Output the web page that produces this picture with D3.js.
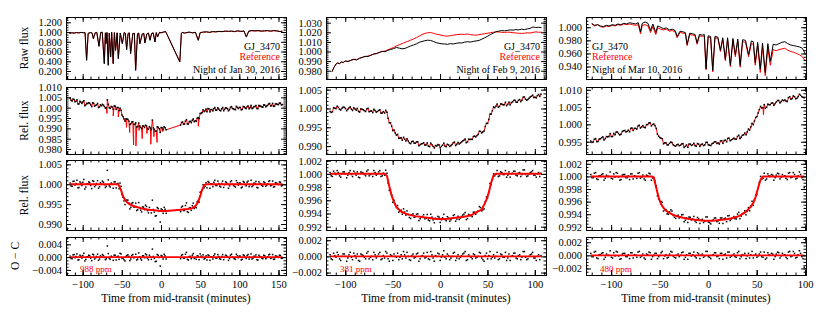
<!DOCTYPE html>
<html>
<head>
<meta charset="utf-8">
<script src="https://cdn.jsdelivr.net/npm/d3@7"></script>
<style>
body { margin: 0; background: #fff; }
svg text { font-family: "Liberation Serif", "DejaVu Serif", serif; }
</style>
</head>
<body>
<svg id="chart" width="830" height="319"></svg>
<script>
// ---- Night of Jan 30, 2016 ----
const janRawT = [-117,-114,-111,-108,-105,-102,-99,-97,-95,-93,-90,-88,-86.4,-84,-82,-79.2,-77,-75,-72.4,-71,-70.3,-69,-67.3,-66,-64.3,-63,-61,-59.5,-58,-56,-54.5,-52,-49.4,-47,-45.5,-43.9,-42,-40.5,-38.8,-36,-34,-32.4,-30,-28.5,-26.9,-24,-22,-20.5,-18,-16,-14.1,-12,-10,-7.7,-6,-4.3,-2,0,3,6,24,26,27,30,33,36,40,44,47.6,50,54,58,62,66,70,74,78,82,86,90,94,98,102,106,109,112,116,120,124,128,132,136,140,144,148,152,155];
const janRawTarget = [0.975,0.985,0.978,0.990,0.982,0.993,0.985,0.990,0.418,0.975,0.990,0.980,0.863,0.985,0.995,0.705,0.990,0.998,0.349,0.985,0.760,0.990,0.315,0.980,0.486,0.995,0.349,0.990,0.620,0.985,0.452,0.980,0.760,0.990,0.975,0.637,0.970,0.985,0.555,0.970,0.975,0.212,0.965,0.980,0.760,0.960,0.975,0.774,0.965,0.980,0.829,0.970,0.985,0.795,0.990,0.900,0.995,0.985,1.000,1.010,0.384,0.970,0.995,0.980,0.990,1.000,0.985,0.995,0.829,0.990,1.000,1.005,0.995,1.010,1.005,1.015,1.010,1.020,1.015,1.020,1.010,1.025,1.015,1.020,0.897,1.020,1.030,1.025,1.030,1.020,1.025,1.030,1.020,1.030,1.025,1.010,1.020];
const janRawRef = [0.972,0.982,0.980,0.987,0.984,0.990,0.987,0.988,0.430,0.972,0.988,0.982,0.870,0.983,0.992,0.715,0.988,0.995,0.360,0.983,0.770,0.987,0.325,0.978,0.495,0.992,0.360,0.987,0.630,0.982,0.462,0.978,0.770,0.987,0.972,0.645,0.968,0.982,0.565,0.968,0.972,0.222,0.962,0.978,0.770,0.958,0.972,0.782,0.962,0.978,0.836,0.968,0.982,0.805,0.987,0.905,0.992,0.982,0.998,1.007,0.395,0.968,0.992,0.978,0.987,0.997,0.982,0.992,0.835,0.987,0.997,1.002,0.992,1.007,1.002,1.012,1.007,1.017,1.012,1.017,1.007,1.022,1.012,1.017,0.902,1.017,1.027,1.022,1.027,1.017,1.022,1.027,1.017,1.027,1.022,1.007,1.017];
const janTime = [-116,-113.5,-111,-108.5,-106,-103.5,-101,-98.5,-96,-93.5,-91,-88.5,-86,-83.5,-81,-78.5,-76,-73.5,-71,-68.5,-66,-63.5,-61,-58.5,-56,-53.5,-51,-48.5,-46,-43.5,-41,-38.5,-36,-33.5,-31,-28.5,-26,-23.5,-21,-18.5,-16,-13.5,-11,-8.5,-6,-3.5,-1,1.5,4,6.5,25,27.5,30,32.5,35,37.5,40,42.5,45,47.5,50,52.5,55,57.5,60,62.5,65,67.5,70,72.5,75,77.5,80,82.5,85,87.5,90,92.5,95,97.5,100,102.5,105,107.5,110,112.5,115,117.5,120,122.5,125,127.5,130,132.5,135,137.5,140,142.5,145,147.5,150,152.5,155];
const janTimeB = [-114.8,-112.3,-109.8,-107.3,-104.8,-102.3,-99.8,-97.3,-94.8,-92.3,-89.8,-87.3,-84.8,-82.3,-79.8,-77.3,-74.8,-72.3,-69.8,-67.3,-64.8,-62.3,-59.8,-57.3,-54.8,-52.3,-49.8,-47.3,-44.8,-42.3,-39.8,-37.3,-34.8,-32.3,-29.8,-27.3,-24.8,-22.3,-19.8,-17.3,-14.8,-12.3,-9.8,-7.3,-4.8,-2.3,0.2,2.7,5.2,26.2,28.7,31.2,33.7,36.2,38.7,41.2,43.7,46.2,48.7,51.2,53.7,56.2,58.7,61.2,63.7,66.2,68.7,71.2,73.7,76.2,78.7,81.2,83.7,86.2,88.7,91.2,93.7,96.2,98.7,101.2,103.7,106.2,108.7,111.2,113.7,116.2,118.7,121.2,123.7,126.2,128.7,131.2,133.7,136.2,138.7,141.2,143.7,146.2,148.7,151.2,153.7];
// relative flux, ppm from unity
const janRel = [4600,3200,4000,3100,1800,3100,2050,3400,1400,2000,2150,500,2150,1100,2050,400,900,1250,-200,3800,0,600,-750,750,100,-1400,-1300,-4300,-6500,-5500,-6500,-7800,-6800,-8100,-9300,-7400,-9500,-8800,-9600,-8850,-10500,-9850,-6000,-10400,-11300,-9500,-12000,-9800,-9200,-10700,-8400,-6900,-7900,-5800,-7900,-6600,-6100,-6800,-6600,-4800,-2800,-2400,-1900,-650,-400,-2050,-900,-450,-1200,-50,-1300,-550,-1500,-50,-550,-900,500,-550,-1000,150,100,-1050,600,-150,500,-550,1100,-100,500,-400,1100,700,200,1250,800,1800,800,2100,800,1800,1500,2200,1500];
const janRelB = [3600,4150,2850,3800,1800,2720,2780,950,2100,2420,1380,2420,780,1420,80,1350,1620,580,50,1550,-350,280,800,-820,50,-250,-3500,-5400,-5450,-5650,-8100,-6900,-8000,-7300,-9150,-8750,-10000,-8900,-8470,-9920,-9170,-10570,-9750,-11400,-9250,-10200,-9600,-10700,-9700,-7200,-7950,-6550,-7850,-6700,-7250,-5450,-6350,-5100,-5250,-2750,-1050,-1520,-1980,-580,-930,-1580,70,-1180,-630,-1480,70,-780,-200,-1530,150,-380,-830,620,-430,120,-830,420,-430,820,-20,-450,550,1050,-450,750,350,1370,420,1150,2050,1050,650,1850,1550,2250,1350];
const janDipT = [-69,-61,-54.5,-44,-40,-35,-32,-28,-24,-18,-13,-9,-5,2,47.6];
const janDipV = [-2800,-4000,-4500,-9500,-12000,-18000,-18500,-11000,-15000,-12500,-17700,-14000,-16800,-11500,-9000];
const janDet = [300,-500,800,200,-900,600,-300,1200,-700,100,400,-1100,700,-200,900,-600,0,500,-800,3500,-400,300,-1000,600,100,-1100,-500,-3300,-5100,-4000,-4700,-5800,-4600,-5700,-6600,-4600,-6500,-5700,-6400,-5600,-7200,-6500,-4000,-7000,-7900,-6100,-9500,-6400,-5800,-7300,-6900,-5500,-6600,-4700,-7100,-5900,-5400,-6100,-5900,-4100,-2000,-1500,-900,400,700,-1000,100,500,-300,800,-500,200,-800,600,0,-400,900,-200,-700,400,300,-900,700,-100,500,-600,1000,-300,200,-800,600,100,-500,400,-200,700,-400,800,-600,300,-100,500,-300];
const janDetB = [-400,700,-200,1000,-800,300,500,-1200,100,600,-300,900,-600,200,-1000,400,800,-100,-500,1100,-700,0,600,-900,200,300,-2600,-4200,-4000,-4000,-6200,-4800,-5700,-4750,-6400,-5850,-6950,-5750,-5250,-6650,-5850,-7200,-6350,-8000,-5850,-6800,-6200,-7300,-6300,-5750,-6600,-5350,-6900,-5950,-6550,-4750,-5650,-4400,-4500,-1900,-100,-500,-900,500,100,-600,1000,-300,200,-700,800,-100,400,-1000,600,0,-500,900,-200,300,-700,500,-400,800,-100,-600,300,700,-900,200,-300,600,-500,100,900,-200,-700,400,0,600,-400];
const janRes = [300,-500,800,200,-900,600,-300,1200,-700,100,400,-1100,700,-200,900,-600,0,500,-800,3500,-400,300,-1000,600,100,-700,1000,-300,-1200,500,200,-600,800,-100,-900,1300,-500,400,-200,700,-800,0,2500,-400,-1300,600,-2800,300,900,-600,-500,800,-300,1500,-900,200,600,-400,-700,300,1000,-100,-600,400,700,-1000,100,500,-300,800,-500,200,-800,600,0,-400,900,-200,-700,400,300,-900,700,-100,500,-600,1000,-300,200,-800,600,100,-500,400,-200,700,-400,800,-600,300,-100,500,-300];
const janResB = [-400,700,-200,1000,-800,300,500,-1200,100,600,-300,900,-600,200,-1000,400,800,-100,-500,1100,-700,0,600,-900,300,1200,-400,-800,200,700,-1100,500,-200,900,-600,100,-900,400,1000,-300,600,-700,200,-1400,800,-100,500,-600,400,600,-300,900,-700,200,-500,1100,-200,400,-800,300,700,-400,-900,500,100,-600,1000,-300,200,-700,800,-100,400,-1000,600,0,-500,900,-200,300,-700,500,-400,800,-100,-600,300,700,-900,200,-300,600,-500,100,900,-200,-700,400,0,600,-400];
const janModelT = [-116,-55,-53.5,-51,-48.5,-46,-43.5,-41,-36,-31,-26,-21,-16,-11,-6,-1,6.5,25,30,35,40,42.5,45,47.5,50,52.5,55,57.5,155];
const janModelV = [0,0,-400,-1500,-3000,-3900,-4500,-4900,-5400,-5700,-6000,-6200,-6400,-6500,-6600,-6700,-6700,-6400,-6300,-6200,-6000,-5700,-5200,-4400,-3000,-1400,-300,0,0];

// ---- Night of Feb 9, 2016 ----
const febRawT = [-114,-112,-110,-108,-106,-104,-102,-100,-97,-94,-91,-88,-85,-82,-79,-76,-73,-70,-67,-64,-61,-58,-55,-52,-49,-46,-43,-40,-37,-34,-31,-28,-25,-22,-19,-16,-13,-10,-7,-4,-1,2,5,8,11,14,17,20,23,26,29,32,35,38,41,44,47,50,53,56,59,62,65,68,71,74,77,80,83,86,89,92,95,98,101,104,107];
const febRawTarget = [0.9790,0.9832,0.9868,0.9880,0.9872,0.9893,0.9885,0.9902,0.9895,0.9910,0.9918,0.9912,0.9930,0.9938,0.9950,0.9948,0.9962,0.9972,0.9978,0.9990,1.0002,0.9998,1.0012,1.0022,1.0030,1.0042,1.0035,1.0028,1.0032,1.0045,1.0058,1.0068,1.0080,1.0095,1.0105,1.0112,1.0118,1.0115,1.0105,1.0092,1.0085,1.0080,1.0078,1.0075,1.0082,1.0078,1.0085,1.0090,1.0088,1.0098,1.0102,1.0098,1.0105,1.0110,1.0115,1.0128,1.0142,1.0158,1.0175,1.0190,1.0205,1.0212,1.0218,1.0215,1.0220,1.0225,1.0222,1.0228,1.0225,1.0232,1.0228,1.0235,1.0240,1.0255,1.0250,1.0252,1.0248];
const febRawRef = [0.9788,0.9835,0.9865,0.9883,0.9875,0.9890,0.9888,0.9900,0.9898,0.9908,0.9920,0.9915,0.9928,0.9940,0.9948,0.9952,0.9960,0.9975,0.9980,0.9992,1.0000,1.0005,1.0018,1.0030,1.0042,1.0058,1.0070,1.0082,1.0095,1.0105,1.0118,1.0130,1.0145,1.0160,1.0178,1.0188,1.0195,1.0198,1.0190,1.0180,1.0175,1.0168,1.0162,1.0160,1.0165,1.0170,1.0175,1.0178,1.0180,1.0178,1.0182,1.0175,1.0172,1.0170,1.0175,1.0180,1.0185,1.0190,1.0195,1.0200,1.0205,1.0203,1.0200,1.0198,1.0202,1.0200,1.0195,1.0193,1.0190,1.0188,1.0190,1.0195,1.0192,1.0198,1.0205,1.0200,1.0202];
const febTime = [-116,-113.5,-111,-108.5,-106,-103.5,-101,-98.5,-96,-93.5,-91,-88.5,-86,-83.5,-81,-78.5,-76,-73.5,-71,-68.5,-66,-63.5,-61,-58.5,-56,-53.5,-51,-48.5,-46,-43.5,-41,-38.5,-36,-33.5,-31,-28.5,-26,-23.5,-21,-18.5,-16,-13.5,-11,-8.5,-6,-3.5,-1,1.5,4,6.5,9,11.5,14,16.5,19,21.5,24,26.5,29,31.5,34,36.5,39,41.5,44,46.5,49,51.5,54,56.5,59,61.5,64,66.5,69,71.5,74,76.5,79,81.5,84,86.5,89,91.5,94,96.5,99,101.5,104,106.5];
const febTimeB = [-114.8,-112.3,-109.8,-107.3,-104.8,-102.3,-99.8,-97.3,-94.8,-92.3,-89.8,-87.3,-84.8,-82.3,-79.8,-77.3,-74.8,-72.3,-69.8,-67.3,-64.8,-62.3,-59.8,-57.3,-54.8,-52.3,-49.8,-47.3,-44.8,-42.3,-39.8,-37.3,-34.8,-32.3,-29.8,-27.3,-24.8,-22.3,-19.8,-17.3,-14.8,-12.3,-9.8,-7.3,-4.8,-2.3,0.2,2.7,5.2,7.7,10.2,12.7,15.2,17.7,20.2,22.7,25.2,27.7,30.2,32.7,35.2,37.7,40.2,42.7,45.2,47.7,50.2,52.7,55.2,57.7,60.2,62.7,65.2,67.7,70.2,72.7,75.2,77.7,80.2,82.7,85.2,87.7,90.2,92.7,95.2,97.7,100.2,102.7,105.2];
const febRel = [-800,-900,100,600,-200,50,300,-600,150,-200,200,-450,-800,-100,-350,-800,50,-700,-1100,-550,-800,-350,-1200,-1200,-1000,-3800,-4700,-5700,-7100,-7950,-7800,-7650,-8650,-8650,-9350,-8700,-9200,-8850,-9650,-9350,-9750,-9150,-10150,-9650,-10500,-9970,-9700,-10100,-9230,-10150,-9680,-9850,-9100,-9860,-9020,-9180,-8630,-8110,-8880,-8250,-8230,-7350,-7200,-6050,-6500,-6000,-3950,-2900,-1500,400,600,350,1200,950,1650,1100,950,1750,2200,1650,2350,2200,3050,2200,2750,3250,2900,2800,3700,3800];
const febRelB = [-1050,200,-50,300,-420,330,0,-220,420,-550,-120,20,-950,-220,-580,-130,-880,-650,-230,-980,-530,-1280,-850,-500,-2600,-3800,-5900,-6500,-6880,-7880,-8430,-8160,-8050,-9150,-8820,-9250,-8880,-9910,-9400,-9110,-9700,-10010,-9200,-10080,-9840,-9590,-10500,-9770,-10000,-9520,-10110,-9570,-8930,-9490,-9450,-8900,-8430,-9100,-8170,-8190,-7450,-7550,-6880,-6100,-6250,-4780,-3980,-1500,-600,200,1180,520,1180,1000,730,1680,1550,2120,1680,2150,1830,2980,2430,2380,3050,3530,3000,3400,3200];
const febDet = [200,-400,100,500,-300,0,300,-600,200,-100,400,-200,-500,300,100,-300,600,-100,-400,200,0,500,-300,-200,100,-2500,-3200,-4000,-5100,-5800,-5500,-5300,-6250,-6150,-6750,-6050,-6500,-6050,-6800,-6450,-6800,-6150,-7100,-6550,-7400,-6820,-6550,-6950,-6130,-7100,-6680,-6950,-6300,-7160,-6420,-6680,-6230,-5860,-6780,-6300,-6480,-5800,-5850,-4950,-5600,-5300,-3500,-2700,-1600,0,0,-400,300,-100,500,-200,-500,100,400,-300,200,-100,600,-400,0,300,-200,-500,200,100];
const febDetB = [-300,400,-100,200,-500,300,0,-200,500,-400,100,300,-600,200,-100,400,-300,0,500,-200,300,-400,100,550,-1400,-2400,-4300,-4650,-4800,-5650,-6100,-5780,-5600,-6600,-6190,-6570,-6130,-7080,-6520,-6180,-6720,-6980,-6120,-6980,-6710,-6440,-7350,-6640,-6920,-6490,-7160,-6720,-6180,-6840,-6900,-6450,-6100,-6920,-6140,-6340,-5800,-6100,-5650,-5100,-5450,-4200,-3650,-1450,-850,-300,500,-300,200,-100,-500,300,0,400,-200,100,-400,600,-100,-300,200,500,-200,0,-400];
const febRes = [200,-400,100,500,-300,0,300,-600,200,-100,400,-200,-500,300,100,-300,600,-100,-400,200,0,500,-300,-200,400,-600,100,300,-100,-400,200,600,-200,0,-500,300,-100,400,-300,100,-200,500,-400,200,-600,0,300,-100,700,-300,100,-200,400,-500,200,-100,300,600,-400,0,-300,200,-100,500,-200,-600,400,100,-300,200,0,-400,300,-100,500,-200,-500,100,400,-300,200,-100,600,-400,0,300,-200,-500,200,100];
const febResB = [-300,400,-100,200,-500,300,0,-200,500,-400,100,300,-600,200,-100,400,-300,0,500,-200,300,-400,100,600,-300,200,-500,0,400,-100,-300,200,500,-400,100,-200,300,-600,0,400,-100,-300,600,-200,100,400,-500,200,-100,300,-400,0,500,-200,-300,100,400,-500,200,-100,300,-200,0,400,-400,100,-300,600,-100,-200,500,-300,200,-100,-500,300,0,400,-200,100,-400,600,-100,-300,200,500,-200,0,-400];
const febModelT = [-116,-58,-56,-53.5,-51,-48.5,-46,-43.5,-41,-36,-31,-26,-21,-16,-11,-6,-1,4,9,14,19,24,29,34,39,44,46.5,49,51.5,54,56.5,59,106.5];
const febModelV = [0,0,-300,-1900,-3300,-4300,-5000,-5400,-5700,-6050,-6250,-6400,-6500,-6600,-6700,-6800,-6850,-6830,-6780,-6700,-6620,-6530,-6380,-6180,-5750,-5400,-4700,-3900,-2800,-1300,-200,0,0];

// ---- Night of Mar 10, 2016 ----
const marRawT = [-120,-117,-114,-111,-108,-105,-102,-99,-96,-93,-90,-87,-84,-81,-78,-75,-72,-69.7,-68,-65,-62,-59.4,-57,-54,-52,-49,-46,-43,-40,-37,-34,-32,-29,-26,-23.5,-21.7,-19,-16,-13.5,-11.4,-9,-6,-4,-2.2,0,2.5,4.7,7,10,12.6,15,17.7,20,22.9,25.5,28,30.5,33,35.5,38.5,41.6,44.5,46.5,48.5,51,53.7,56,58.8,61.5,64,67,70,73,76,79,82,85,88,91,94,97,100];
const marRawTarget = [1.006,1.003,1.004,1.002,1.001,1.003,1.002,1.004,1.003,1.005,1.004,1.006,1.005,1.007,1.006,1.005,1.007,0.993,1.006,1.008,1.006,0.995,1.005,0.992,1.002,1.000,0.998,0.999,0.996,0.997,0.995,0.986,0.994,0.993,0.992,0.974,0.991,0.990,0.989,0.976,0.989,0.988,0.989,0.937,0.987,0.986,0.934,0.986,0.985,0.965,0.984,0.951,0.984,0.942,0.983,0.958,0.982,0.942,0.981,0.980,0.958,0.979,0.978,0.946,0.977,0.936,0.976,0.931,0.975,0.948,0.974,0.973,0.975,0.977,0.978,0.975,0.973,0.972,0.971,0.970,0.968,0.960];
const marRawRef = [1.005,1.002,1.004,1.001,1.000,1.002,1.001,1.003,1.002,1.004,1.003,1.005,1.004,1.005,1.004,1.003,1.004,0.990,1.003,1.004,1.002,0.992,1.001,0.989,0.999,0.997,0.996,0.997,0.994,0.995,0.993,0.984,0.992,0.991,0.990,0.972,0.989,0.988,0.987,0.974,0.987,0.986,0.987,0.935,0.985,0.984,0.932,0.984,0.983,0.963,0.982,0.949,0.981,0.940,0.980,0.955,0.979,0.939,0.978,0.977,0.955,0.975,0.974,0.942,0.972,0.931,0.970,0.926,0.968,0.942,0.966,0.964,0.966,0.967,0.968,0.965,0.963,0.962,0.960,0.958,0.955,0.949];
const marTime = [-121,-118.5,-116,-113.5,-111,-108.5,-106,-103.5,-101,-98.5,-96,-93.5,-91,-88.5,-86,-83.5,-81,-78.5,-76,-73.5,-71,-68.5,-66,-63.5,-61,-58.5,-56,-53.5,-51,-48.5,-46,-43.5,-41,-38.5,-36,-33.5,-31,-28.5,-26,-23.5,-21,-18.5,-16,-13.5,-11,-8.5,-6,-3.5,-1,1.5,4,6.5,9,11.5,14,16.5,19,21.5,24,26.5,29,31.5,34,36.5,39,41.5,44,46.5,49,51.5,54,56.5,59,61.5,64,66.5,69,71.5,74,76.5,79,81.5,84,86.5,89,91.5,94,96.5,99];
const marTimeB = [-119.8,-117.3,-114.8,-112.3,-109.8,-107.3,-104.8,-102.3,-99.8,-97.3,-94.8,-92.3,-89.8,-87.3,-84.8,-82.3,-79.8,-77.3,-74.8,-72.3,-69.8,-67.3,-64.8,-62.3,-59.8,-57.3,-54.8,-52.3,-49.8,-47.3,-44.8,-42.3,-39.8,-37.3,-34.8,-32.3,-29.8,-27.3,-24.8,-22.3,-19.8,-17.3,-14.8,-12.3,-9.8,-7.3,-4.8,-2.3,0.2,2.7,5.2,7.7,10.2,12.7,15.2,17.7,20.2,22.7,25.2,27.7,30.2,32.7,35.2,37.7,40.2,42.7,45.2,47.7,50.2,52.7,55.2,57.7,60.2,62.7,65.2,67.7,70.2,72.7,75.2,77.7,80.2,82.7,85.2,87.7,90.2,92.7,95.2,97.7];
const marRel = [-4800,-5100,-4100,-4950,-4150,-3600,-4100,-3600,-2650,-3500,-3000,-2200,-3050,-2050,-1750,-2050,-2150,-1050,-1150,-1350,-250,-750,-850,-50,450,-450,100,-1150,-3400,-4000,-5600,-5300,-5900,-5100,-5900,-6300,-5750,-6000,-5550,-6350,-6600,-5680,-5880,-6130,-5520,-6360,-5650,-5920,-5190,-5990,-5570,-5050,-5520,-5680,-4680,-4680,-5030,-3970,-4450,-3960,-4300,-3150,-3650,-3030,-3000,-1350,-700,-100,2000,3300,5200,4850,4650,5850,5700,6200,6000,6900,6200,7050,7050,6600,8000,7450,8000,7550,8700,8000,7700];
const marRelB = [-5200,-4300,-4980,-4250,-3830,-4500,-3500,-3480,-3530,-2600,-2200,-2680,-2850,-1850,-2150,-1650,-1150,-1750,-1150,-450,-1050,-350,-950,-50,450,-20,-370,-2820,-3800,-4150,-5350,-5900,-5450,-5250,-6140,-5920,-6170,-5620,-6650,-5930,-5690,-6070,-5450,-6320,-5690,-5850,-6130,-5200,-5940,-6130,-5410,-4990,-5350,-4770,-5480,-4510,-4050,-4710,-4260,-4270,-3480,-4100,-3150,-2470,-2200,-1650,300,1000,2250,4250,4730,5700,4950,5680,6150,5500,6500,6900,6580,6850,6730,7750,7280,8230,7380,8030,8400,7800];
const marDipT = [33,57];
const marDipV = [-4200,2800];
const marDet = [300,-200,600,-500,100,400,-300,0,700,-400,-100,500,-600,200,300,-200,-500,400,100,-300,600,-100,-400,200,500,-600,-200,-1500,-3600,-4000,-5500,-5300,-6000,-5300,-6200,-6650,-6150,-6450,-6050,-6950,-7300,-6480,-6730,-7080,-6520,-7460,-6800,-7120,-6440,-7340,-7020,-6600,-7170,-7430,-6580,-6730,-7180,-6220,-6750,-6360,-6750,-5700,-6300,-5880,-6100,-4950,-4700,-4600,-3000,-1900,0,-300,-600,400,0,200,-200,500,-400,300,100,-500,600,-100,300,-300,700,-200,-1800];
const marDetB = [-200,500,-400,100,300,-600,200,0,-300,400,600,-100,-500,300,-200,100,400,-400,0,500,-300,200,-600,100,400,-250,-700,-3100,-3900,-4100,-5300,-5950,-5600,-5500,-6470,-6300,-6600,-6100,-7200,-6580,-6440,-6900,-6350,-7300,-6740,-6980,-7310,-6430,-7240,-7530,-6910,-6590,-7050,-6600,-7460,-6610,-6250,-6990,-6610,-6700,-5980,-6700,-5900,-5450,-5550,-5450,-3950,-3750,-2850,-950,-450,500,-400,100,300,-600,200,400,-100,0,-300,500,-200,600,-400,100,300,-500];
const marRes = [300,-200,600,-500,100,400,-300,0,700,-400,-100,500,-600,200,300,-200,-500,400,100,-300,600,-100,-400,200,500,-600,0,300,-200,400,-500,100,-300,600,-100,-400,200,0,500,-300,-600,300,100,-200,400,-500,200,-100,600,-300,0,400,-200,-500,300,100,-400,500,-100,200,-300,600,-200,0,-500,300,100,-400,200,-100,500,-300,-600,400,0,200,-200,500,-400,300,100,-500,600,-100,300,-300,700,-200,-1800];
const marResB = [-200,500,-400,100,300,-600,200,0,-300,400,600,-100,-500,300,-200,100,400,-400,0,500,-300,200,-600,100,400,-200,300,-500,0,600,-100,-400,200,500,-300,0,-200,400,-600,100,300,-100,500,-400,200,0,-300,600,-200,-500,100,400,-100,300,-600,200,500,-300,0,-200,400,-500,100,300,-100,-400,600,0,-300,200,-200,500,-400,100,300,-600,200,400,-100,0,-300,500,-200,600,-400,100,300,-500];
const marModelT = [-121,-58,-56,-53.5,-51,-48.5,-46,-43.5,-41,-36,-31,-26,-21,-16,-11,-6,-1,4,9,14,19,24,29,34,39,44,46.5,49,51.5,54,56.5,99];
const marModelV = [0,0,-200,-1800,-3400,-4400,-5000,-5400,-5700,-6100,-6350,-6550,-6700,-6830,-6920,-7000,-7040,-7020,-6970,-6880,-6780,-6650,-6450,-6100,-5600,-4800,-4200,-3200,-1800,-500,0,0];

const nightLabels = ['Night of Jan 30, 2016', 'Night of Feb 9, 2016', 'Night of Mar 10, 2016'];
const scatterLabels = ['988 ppm', '381 ppm', '480 ppm'];

const svg = d3.select('#chart');
const ppm = v => 1 + v / 1e6;
const zip = (a, b, f = v => v) => a.map((t, i) => [t, f(b[i])]);

const cols = [
    { x0: 66, x1: 286, dom: [-121.3, 159.6], major: [-100, -50, 0, 50, 100, 150] },
    { x0: 326, x1: 546, dom: [-120.3, 111.8], major: [-100, -50, 0, 50, 100] },
    { x0: 586, x1: 806, dom: [-125.9, 100.8], major: [-100, -50, 0, 50, 100] }
];
const rows = [{ y0: 17, y1: 79 }, { y0: 87, y1: 154 }, { y0: 160, y1: 230 }, { y0: 237, y1: 275 }];

// y domain, major tick step, minor tick step per [row][col]
const ySpec = [
    [{ dom: [0.036, 1.309], step: 0.2, minor: 0.05 }, { dom: [0.9714, 1.0359], step: 0.01, minor: 0.002 }, { dom: [0.921, 1.0157], step: 0.02, minor: 0.005 }],
    [{ dom: [0.9776, 1.0100], step: 0.005, minor: 0.001 }, { dom: [0.9879, 1.0057], step: 0.005, minor: 0.001 }, { dom: [0.99145, 1.0108], step: 0.005, minor: 0.001 }],
    [{ dom: [0.9885, 1.0061], step: 0.005, minor: 0.001 }, { dom: [0.9915, 1.0021], step: 0.002, minor: 0.0005 }, { dom: [0.9915, 1.0026], step: 0.002, minor: 0.0005 }],
    [{ dom: [-0.0056, 0.0063], step: 0.004, minor: 0.001 }, { dom: [-0.0023, 0.0024], step: 0.002, minor: 0.0005 }, { dom: [-0.0030, 0.0028], step: 0.002, minor: 0.0005 }]
];

const gridVals = (dom, step) => {
    const out = [];
    for (let k = Math.ceil(dom[0] / step - 1e-6); k * step <= dom[1] + 1e-9; k++) out.push(+(k * step).toFixed(6));
    return out;
};

function styleAxis(a, size) {
    a.select('.domain').remove();
    a.selectAll('line').attr('stroke', '#000');
    a.attr('font-family', null).attr('font-size', size);
    a.selectAll('text').attr('fill', '#000');
}

function panel(ci, ri) {
    const c = cols[ci], r = rows[ri], s = ySpec[ri][ci];
    const x = d3.scaleLinear().domain(c.dom).range([c.x0, c.x1]);
    const y = d3.scaleLinear().domain(s.dom).range([r.y1, r.y0]);
    const g = svg.append('g');
    const id = `clip${ri}${ci}`;
    svg.append('clipPath').attr('id', id).append('rect')
        .attr('x', c.x0).attr('y', r.y0).attr('width', c.x1 - c.x0).attr('height', r.y1 - r.y0);
    const plot = g.append('g').attr('clip-path', `url(#${id})`);

    const xMinor = gridVals(c.dom, 10);
    const yMajor = gridVals(s.dom, s.step);
    const yMinor = gridVals(s.dom, s.minor);
    const fmt = d3.format('.3f');

    const axes = g.append('g');
    // minor and major ticks on all four sides, pointing inwards
    [[d3.axisBottom(x).tickValues(xMinor), `translate(0,${r.y0})`, 2.5],
     [d3.axisTop(x).tickValues(xMinor), `translate(0,${r.y1})`, 2.5],
     [d3.axisRight(y).tickValues(yMinor), `translate(${c.x0},0)`, 2.5],
     [d3.axisLeft(y).tickValues(yMinor), `translate(${c.x1},0)`, 2.5],
     [d3.axisBottom(x).tickValues(c.major), `translate(0,${r.y0})`, 5],
     [d3.axisTop(x).tickValues(c.major), `translate(0,${r.y1})`, 5],
     [d3.axisLeft(y).tickValues(yMajor), `translate(${c.x1},0)`, 5]
    ].forEach(([ax, tr, len]) => {
        const a = axes.append('g').attr('transform', tr)
            .call(ax.tickSizeInner(len).tickSizeOuter(0).tickFormat(''));
        styleAxis(a, 10);
    });

    const left = axes.append('g').attr('transform', `translate(${c.x0},0)`)
        .call(d3.axisLeft(y).tickValues(yMajor).tickSizeInner(-5).tickSizeOuter(0).tickPadding(4).tickFormat(fmt));
    styleAxis(left, 10.5);

    if (ri === 3) {
        const bottom = axes.append('g').attr('transform', `translate(0,${r.y1})`)
            .call(d3.axisBottom(x).tickValues(c.major).tickSizeInner(-5).tickSizeOuter(0).tickPadding(6).tickFormat(d3.format('d')));
        styleAxis(bottom, 10.5);
        svg.append('text')
            .attr('x', (c.x0 + c.x1) / 2).attr('y', 302)
            .attr('text-anchor', 'middle').attr('font-size', 11.5)
            .text('Time from mid-transit (minutes)');
    }

    g.append('rect')
        .attr('x', c.x0 + 0.5).attr('y', r.y0 + 0.5)
        .attr('width', c.x1 - c.x0).attr('height', r.y1 - r.y0)
        .attr('fill', 'none').attr('stroke', '#000');

    return { x, y, plot, g };
}

function drawLine(p, pts, color, width) {
    p.plot.append('path')
        .datum(pts)
        .attr('d', d3.line().x(d => p.x(d[0])).y(d => p.y(d[1])))
        .attr('fill', 'none').attr('stroke', color).attr('stroke-width', width)
        .attr('stroke-linejoin', 'round');
}

function drawDots(p, pts) {
    p.plot.append('g').selectAll('rect')
        .data(pts)
        .enter().append('rect')
        .attr('x', d => p.x(d[0]) - 0.75).attr('y', d => p.y(d[1]) - 0.75)
        .attr('width', 1.5).attr('height', 1.5)
        .attr('fill', '#000');
}

const nights = [
    { rawT: janRawT, target: janRawTarget, ref: janRawRef, time: janTime, timeB: janTimeB, rel: janRel, relB: janRelB,
      dipT: janDipT, dipV: janDipV, det: janDet, detB: janDetB, res: janRes, resB: janResB, modelT: janModelT, modelV: janModelV },
    { rawT: febRawT, target: febRawTarget, ref: febRawRef, time: febTime, timeB: febTimeB, rel: febRel, relB: febRelB,
      dipT: [], dipV: [], det: febDet, detB: febDetB, res: febRes, resB: febResB, modelT: febModelT, modelV: febModelV },
    { rawT: marRawT, target: marRawTarget, ref: marRawRef, time: marTime, timeB: marTimeB, rel: marRel, relB: marRelB,
      dipT: marDipT, dipV: marDipV, det: marDet, detB: marDetB, res: marRes, resB: marResB, modelT: marModelT, modelV: marModelV }
];

const byTime = (a, b) => a[0] - b[0];

nights.forEach((n, ci) => {
    // raw flux
    const p0 = panel(ci, 0);
    drawLine(p0, zip(n.rawT, n.ref), '#ff0000', 1);
    drawLine(p0, zip(n.rawT, n.target), '#000', 1);
    const c = cols[ci];
    const lx = ci === 2 ? c.x0 + 6 : c.x1 - 6;
    const anchor = ci === 2 ? 'start' : 'end';
    [['GJ_3470', '#000', 49.5], ['Reference', '#ff0000', 60], [nightLabels[ci], '#000', 72.5]].forEach(([t, col, yy]) => {
        svg.append('text').attr('x', lx).attr('y', yy)
            .attr('text-anchor', anchor).attr('font-size', 10)
            .attr('fill', col).text(t);
    });

    // relative flux with the red light curve underneath
    const p1 = panel(ci, 1);
    const rel = zip(n.time, n.rel, ppm).concat(zip(n.timeB, n.relB, ppm));
    drawLine(p1, rel.concat(zip(n.dipT, n.dipV, ppm)).sort(byTime), '#ff0000', 1);
    drawDots(p1, rel);

    // detrended flux and transit model
    const p2 = panel(ci, 2);
    drawDots(p2, zip(n.time, n.det, ppm).concat(zip(n.timeB, n.detB, ppm)));
    drawLine(p2, zip(n.modelT, n.modelV, ppm), '#ff0000', 2);

    // residuals
    const p3 = panel(ci, 3);
    const toFlux = v => v / 1e6;
    drawDots(p3, zip(n.time, n.res, toFlux).concat(zip(n.timeB, n.resB, toFlux)));
    const ext = d3.extent(n.time);
    drawLine(p3, [[ext[0], 0], [ext[1], 0]], '#ff0000', 1.6);
    svg.append('text').attr('x', [80, 340, 600][ci]).attr('y', 271.5)
        .attr('font-size', 9).attr('fill', '#ff0000').text(scatterLabels[ci]);
});

// y titles on the first column
[['Raw flux', 28, 48], ['Rel. flux', 28, 120.5], ['Rel. flux', 28, 195], ['O \u2212 C', 19, 256]].forEach(([t, x, y]) => {
    svg.append('text')
        .attr('transform', `translate(${x},${y}) rotate(-90)`)
        .attr('text-anchor', 'middle').attr('font-size', 11.5)
        .text(t);
});
</script>
</body>
</html>
